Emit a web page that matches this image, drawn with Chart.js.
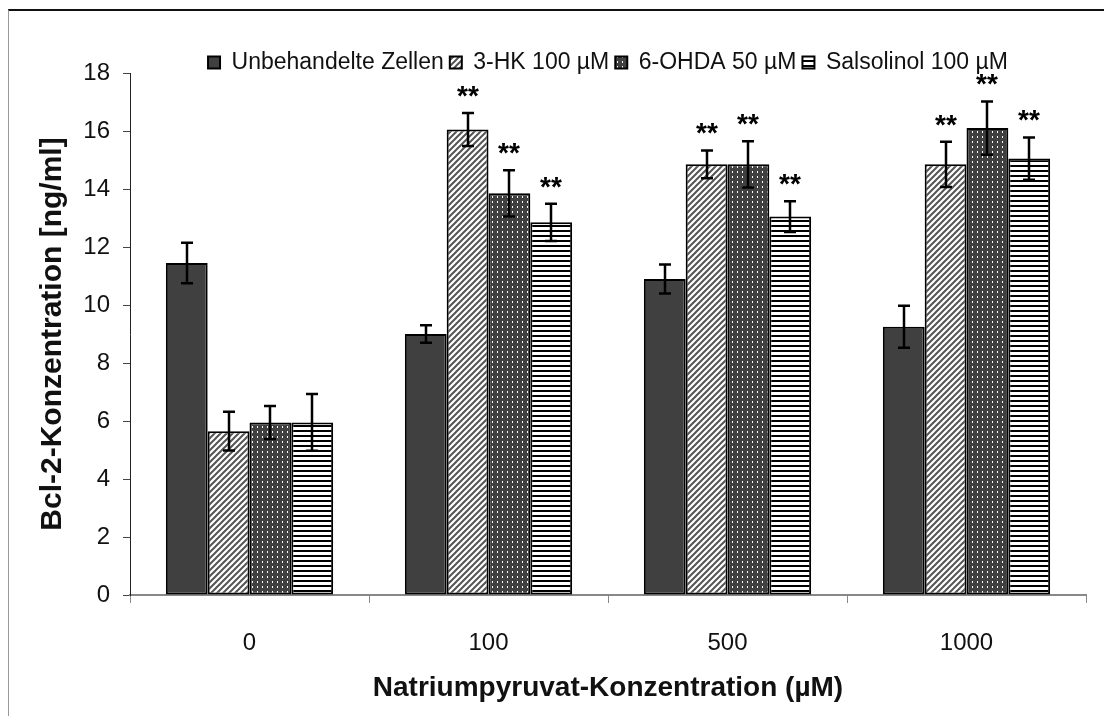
<!DOCTYPE html>
<html>
  <head>
    <title>Bcl-2-Konzentration</title>
    <script src="https://cdn.jsdelivr.net/npm/chart.js"></script>
    <style>
      body { margin: 0; background: #fff; }
      .wrap { position: relative; width: 1104px; height: 716px; }
      /* Rahmen oben / links */
      .frame {
        position: absolute; left: 8px; top: 9px; right: 0; bottom: 0;
        border-top: 2px solid #111; border-left: 1px solid #999;
        pointer-events: none;
      }
      canvas { position: absolute; left: 0; top: 0; }
    </style>
  </head>
  <body>
    <div class="wrap">
      <canvas id="bcl2Chart" width="1104" height="716"></canvas>
      <div class="frame"></div>
    </div>
    <script>
      // Natriumpyruvat-Konzentrationen (µM)
      var categories = ['0', '100', '500', '1000'];
      var seriesNames = ['Unbehandelte Zellen', '3-HK 100 µM', '6-OHDA 50 µM', 'Salsolinol 100 µM'];

      // Mittelwerte Bcl-2 [ng/ml]
      var unbehandelt = [11.45, 9.0, 10.9, 9.25];
      var hk3 = [5.65, 16.05, 14.85, 14.85];
      var ohda6 = [5.95, 13.85, 14.85, 16.1];
      var salsolinol = [5.95, 12.85, 13.05, 15.05];

      // Standardabweichungen
      var errUnbehandelt = [0.7, 0.3, 0.5, 0.72];
      var errHk3 = [0.67, 0.57, 0.48, 0.78];
      var errOhda6 = [0.57, 0.8, 0.8, 0.92];
      var errSalsolinol = [0.98, 0.64, 0.53, 0.73];

      // Signifikanz
      var sigUnbehandelt = ['', '', '', ''];
      var sigHk3 = ['', '**', '**', '**'];
      var sigOhda6 = ['', '**', '**', '**'];
      var sigSalsolinol = ['', '**', '**', '**'];

      var yTicks = [0, 2, 4, 6, 8, 10, 12, 14, 16, 18];

      var canvas = document.getElementById('bcl2Chart');
      var ctx = canvas.getContext('2d');

      function makePattern(w, h, draw) {
        var c = document.createElement('canvas');
        c.width = w;
        c.height = h;
        var g = c.getContext('2d');
        draw(g, w, h);
        return ctx.createPattern(c, 'repeat');
      }

      var solidDark = '#404040';
      // schraffiert (/)
      var hatchPattern = makePattern(6, 6, function(g, w, h) {
        g.fillStyle = '#fff';
        g.fillRect(0, 0, w, h);
        g.strokeStyle = '#555';
        g.lineWidth = 2;
        g.beginPath();
        g.moveTo(-1, h + 1); g.lineTo(w + 1, -1);
        g.moveTo(-1, 1); g.lineTo(1, -1);
        g.moveTo(w - 1, h + 1); g.lineTo(w + 1, h - 1);
        g.stroke();
      });
      // gepunktet
      var dotPattern = makePattern(5, 5, function(g, w, h) {
        g.fillStyle = '#404040';
        g.fillRect(0, 0, w, h);
        g.fillStyle = '#fff';
        g.fillRect(2, 1, 1, 2);
      });
      // waagerecht gestreift
      var stripePattern = makePattern(4, 5, function(g, w, h) {
        g.fillStyle = '#fff';
        g.fillRect(0, 0, w, h);
        g.fillStyle = '#000';
        g.fillRect(0, 0, w, 2);
      });

      var errors = [errUnbehandelt, errHk3, errOhda6, errSalsolinol];
      var stars = [sigUnbehandelt, sigHk3, sigOhda6, sigSalsolinol];

      // Fehlerbalken und Sternchen
      var errorBarPlugin = {
        id: 'errorBars',
        afterDatasetsDraw: function(chart) {
          var c = chart.ctx;
          var yScale = chart.scales.y;
          c.save();
          chart.data.datasets.forEach(function(ds, di) {
            var meta = chart.getDatasetMeta(di);
            meta.data.forEach(function(bar, i) {
              var v = ds.data[i];
              var e = errors[di][i];
              var x = Math.round(bar.x);
              var yTop = yScale.getPixelForValue(v + e);
              var yBot = yScale.getPixelForValue(v - e);
              c.strokeStyle = '#000';
              c.lineWidth = 2.5;
              c.beginPath();
              c.moveTo(x, yTop); c.lineTo(x, yBot);
              c.moveTo(x - 6, yTop); c.lineTo(x + 6, yTop);
              c.moveTo(x - 6, yBot); c.lineTo(x + 6, yBot);
              c.stroke();
              if (stars[di][i]) {
                c.fillStyle = '#000';
                c.font = 'bold 28px "Liberation Sans", Arial, sans-serif';
                c.textAlign = 'center';
                c.textBaseline = 'alphabetic';
                c.fillText(stars[di][i], x, yTop - 8);
              }
            });
          });
          c.restore();
        }
      };

      // Legende etwas näher an die Achse schieben
      var legendShift = {
        id: 'legendShift',
        afterLayout: function(chart) {
          chart.legend.top += 11;
          chart.legend.bottom += 11;
        }
      };

      Chart.defaults.font.family = '"Liberation Sans", Arial, sans-serif';
      Chart.defaults.color = '#000';

      var fills = [solidDark, hatchPattern, dotPattern, stripePattern];
      var values = [unbehandelt, hk3, ohda6, salsolinol];

      var chart = new Chart(ctx, {
        type: 'bar',
        data: {
          labels: categories,
          datasets: values.map(function(vals, k) {
            return {
              label: seriesNames[k],
              data: vals,
              backgroundColor: fills[k],
              borderColor: '#000',
              borderWidth: 2,
              borderSkipped: false,
              categoryPercentage: 0.7,
              barPercentage: 1.0
            };
          })
        },
        options: {
          responsive: false,
          animation: false,
          layout: { padding: { left: 0, right: 18, top: 34, bottom: 0 } },
          plugins: {
            legend: {
              position: 'top',
              fullSize: false,
              labels: {
                boxWidth: 12,
                boxHeight: 12,
                padding: 6,
                font: { size: 23 },
                color: '#111'
              }
            },
            tooltip: { enabled: false }
          },
          scales: {
            x: {
              grid: { drawOnChartArea: false, tickLength: 8, color: '#888', lineWidth: 1, offset: true },
              border: { color: '#888', width: 2 },
              ticks: {
                font: { size: 24, family: '"Liberation Sans Narrow", "Liberation Sans", Arial, sans-serif' },
                padding: 26,
                color: '#111'
              },
              title: {
                display: true,
                text: 'Natriumpyruvat-Konzentration (µM)',
                font: { size: 28, weight: 'bold' },
                padding: { top: 0, bottom: 11 },
                color: '#111'
              },
              afterFit: function(scale) { scale.height = 121; }
            },
            y: {
              min: 0,
              max: 18,
              afterBuildTicks: function(scale) {
                scale.ticks = yTicks.map(function(v) { return { value: v }; });
              },
              grid: { drawOnChartArea: false, tickLength: 7, color: '#444' },
              border: { color: '#222', width: 1 },
              ticks: { font: { size: 24 }, padding: 13, color: '#111' },
              title: {
                display: true,
                text: 'Bcl-2-Konzentration [ng/ml]',
                font: { size: 30, weight: 'bold' },
                padding: { top: 35, bottom: 0 },
                color: '#111'
              },
              afterFit: function(scale) { scale.width = 130; }
            }
          }
        },
        plugins: [errorBarPlugin, legendShift]
      });
    </script>
  </body>
</html>
